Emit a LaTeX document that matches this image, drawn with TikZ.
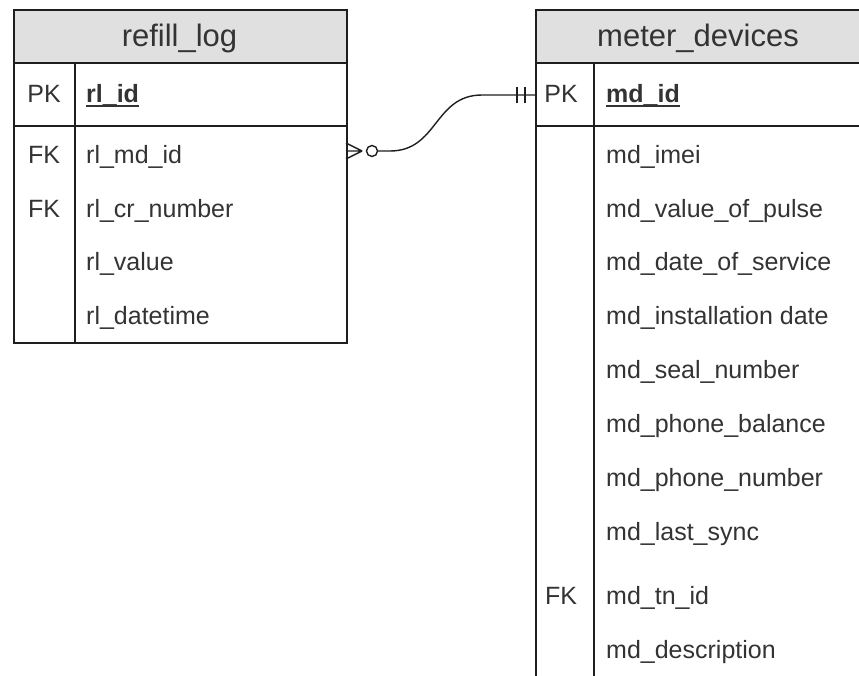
\documentclass[tikz,border=0pt]{standalone}
\usepackage{fontspec}
\setmainfont{Liberation Sans}
\definecolor{ln}{HTML}{1E1E1E}
\definecolor{hd}{HTML}{E0E0E0}
\definecolor{tx}{HTML}{333333}
\begin{document}
\begin{tikzpicture}[x=1pt,y=-1pt,
  hdr/.style={fill=hd, draw=ln, line width=1.8pt, anchor=north west, inner sep=0},
  tbl/.style={draw=ln, line width=1.8pt, anchor=north west, inner sep=0},
  rule/.style={draw=ln, line width=1.8pt},
  fld/.style={anchor=base west, inner sep=0, text=tx, font=\fontsize{25}{30}\selectfont},
  pkf/.style={fld, font=\fontsize{25}{30}\selectfont\bfseries},
  key/.style={anchor=base, inner sep=0, text=tx, font=\fontsize{25}{30}\selectfont},
  ttl/.style={anchor=base, inner sep=0, text=tx, font=\fontsize{31}{36}\selectfont},
  rel/.style={draw=ln, line width=1.4pt}]
\useasboundingbox (0,0) rectangle (859,675);
\clip (0,0) rectangle (859,675);

% ---------- refill_log ----------
\node[hdr, minimum width=333pt, minimum height=53pt] (rlh) at (13,9) {};
\node[tbl, minimum width=333pt, minimum height=280pt] (rlb) at (13,62) {};
\draw[rule] (13,126) -- (346,126);
\draw[rule] (75,62) -- (75,342);
\node[ttl] (rlt) at (179.5,46) {refill\_log};
\node[key] (rlk1) at (44,102) {PK};
\node[pkf] (rlf1) at (86,102) {rl\_id};
\draw[draw=tx, line width=1.2pt] ([yshift=-4pt]rlf1.base west) -- ([yshift=-4pt]rlf1.base east);
\node[key] (rlk2) at (44,163) {FK};
\node[fld] (rlf2) at (86,163) {rl\_md\_id};
\node[key] (rlk3) at (44,217) {FK};
\node[fld] (rlf3) at (86,217) {rl\_cr\_number};
\node[fld] (rlf4) at (86,270) {rl\_value};
\node[fld] (rlf5) at (86,324) {rl\_datetime};

% ---------- meter_devices ----------
\node[hdr, minimum width=327pt, minimum height=53pt] (mdh) at (535,9) {};
\node[tbl, minimum width=327pt, minimum height=640pt] (mdb) at (535,62) {};
\draw[rule] (535,126) -- (862,126);
\draw[rule] (594,62) -- (594,702);
\node[ttl] (mdt) at (698,46) {meter\_devices};
\node[key] (mdk1) at (561,102) {PK};
\node[pkf] (mdf1) at (606,102) {md\_id};
\draw[draw=tx, line width=1.2pt] ([yshift=-4pt]mdf1.base west) -- ([yshift=-4pt]mdf1.base east);
\node[fld] (mdf2) at (606,163) {md\_imei};
\node[fld] (mdf3) at (606,217) {md\_value\_of\_pulse};
\node[fld] (mdf4) at (606,270) {md\_date\_of\_service};
\node[fld] (mdf5) at (606,324) {md\_installation date};
\node[fld] (mdf6) at (606,378) {md\_seal\_number};
\node[fld] (mdf7) at (606,432) {md\_phone\_balance};
\node[fld] (mdf8) at (606,486) {md\_phone\_number};
\node[fld] (mdf9) at (606,540) {md\_last\_sync};
\node[key] (mdk10) at (561,604) {FK};
\node[fld] (mdf10) at (606,604) {md\_tn\_id};
\node[fld] (mdf11) at (606,658) {md\_description};

% ---------- relation ----------
\coordinate (fkpt) at (346,151);
\coordinate (pkpt) at (535,95);
\coordinate (foot) at (362,151);
\draw[rel] (foot) -- ([yshift=-8pt]fkpt) (foot) -- (fkpt) (foot) -- ([yshift=8pt]fkpt);
\node[circle, draw=ln, fill=white, line width=1.4pt, minimum size=11pt, inner sep=0] (opt) at (372,151) {};
\draw[rel] (opt.east) -- (390,151) .. controls (438,151) and (434,95) .. (482,95) -- (pkpt);
\draw[rel] ([xshift=-18pt,yshift=-8pt]pkpt) -- ([xshift=-18pt,yshift=8pt]pkpt)
           ([xshift=-10pt,yshift=-8pt]pkpt) -- ([xshift=-10pt,yshift=8pt]pkpt);
\end{tikzpicture}
\end{document}
